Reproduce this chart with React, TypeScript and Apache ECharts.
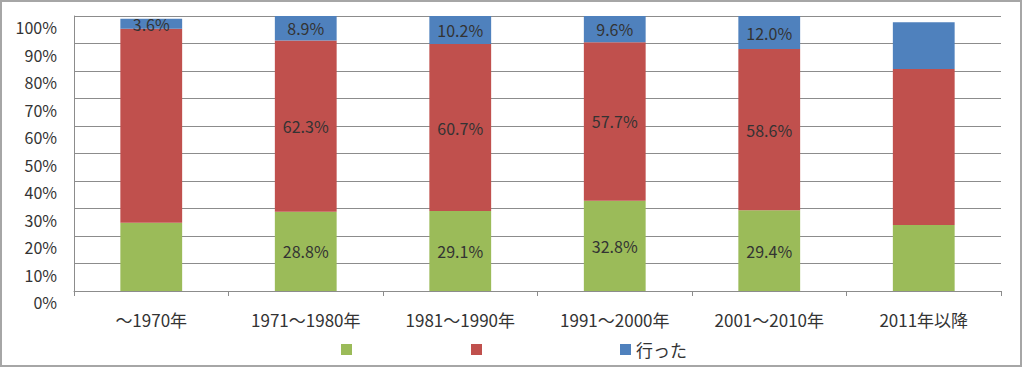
import React, { useEffect, useRef } from "react";
import * as echarts from "echarts";

const categories = ["～1970年", "1971～1980年", "1981～1990年", "1991～2000年", "2001～2010年", "2011年以降"];
const greenValues = [24.8, 28.8, 29.1, 32.8, 29.4, 24.0];
const redValues = [70.6, 62.3, 60.7, 57.7, 58.6, 56.7];
const blueValues = [3.6, 8.9, 10.2, 9.6, 12.0, 17.0];
const greenLabelShown = [false, true, true, true, true, false];
const redLabelShown = [false, true, true, true, true, false];
const blueLabelShown = [true, true, true, true, true, false];
const yTicks = [0, 10, 20, 30, 40, 50, 60, 70, 80, 90, 100];
const seriesNames = ["g", "r", "行った"];

const FONT = "'Noto Sans CJK JP', 'Noto Sans', sans-serif";

function withLabels(values: number[], shown: boolean[]) {
  return values.map((v, i) => ({
    value: v,
    label: { show: shown[i] },
  }));
}

export default function App() {
  const ref = useRef<HTMLDivElement>(null);
  useEffect(() => {
    document.body.style.margin = "0";
    const chart = echarts.init(ref.current!, null, { renderer: "svg" });
    const labelCfg = {
      position: "inside" as const,
      formatter: (p: any) => Number(p.value).toFixed(1) + "%",
      color: "#333",
      fontSize: 16,
      fontFamily: FONT,
    };
    const colors = ["#9BBB59", "#C0504D", "#4F81BD"];
    const legendBase = {
      padding: 0,
      itemWidth: 11,
      itemHeight: 11,
      icon: "rect",
      itemGap: 0,
      textStyle: { fontSize: 17, lineHeight: 17, color: "#333", fontFamily: FONT },
    };
    chart.setOption({
      animation: false,
      color: colors,
      grid: { left: 74, right: 23, top: 16, bottom: 82, containLabel: false },
      graphic: [
        {
          type: "rect",
          shape: { x: 1, y: 1, width: 1020, height: 365 },
          style: { fill: "none", stroke: "#a6a6a6", lineWidth: 2 },
          silent: true,
        },
      ],
      legend: [
        { ...legendBase, top: 344, left: 341, data: [seriesNames[0]], formatter: () => "" },
        { ...legendBase, top: 344, left: 471, data: [seriesNames[1]], formatter: () => "" },
        { ...legendBase, top: 341, left: 620, data: [seriesNames[2]] },
      ],
      xAxis: {
        type: "category",
        data: categories,
        axisLine: { lineStyle: { color: "#8c8c8c", width: 1 } },
        axisTick: { show: true, length: 5, lineStyle: { color: "#8c8c8c" } },
        axisLabel: { color: "#333", fontSize: 17, fontFamily: FONT, margin: 20 },
      },
      yAxis: {
        type: "value",
        min: yTicks[0],
        max: yTicks[yTicks.length - 1],
        interval: 10,
        axisLine: { show: true, lineStyle: { color: "#8c8c8c" } },
        axisTick: { show: false },
        splitLine: { lineStyle: { color: "#8c8c8c", width: 1 } },
        axisLabel: {
          color: "#333",
          fontSize: 16,
          fontFamily: FONT,
          margin: 17,
          verticalAlign: "top",
          lineHeight: 22,
          formatter: (v: number) => v + "%",
        },
      },
      series: [
        {
          name: seriesNames[0],
          type: "bar",
          stack: "total",
          barWidth: "40%",
          data: withLabels(greenValues, greenLabelShown),
          label: labelCfg,
        },
        {
          name: seriesNames[1],
          type: "bar",
          stack: "total",
          barWidth: "40%",
          data: withLabels(redValues, redLabelShown),
          label: labelCfg,
        },
        {
          name: seriesNames[2],
          type: "bar",
          stack: "total",
          barWidth: "40%",
          data: withLabels(blueValues, blueLabelShown),
          label: labelCfg,
        },
      ],
    });
    return () => chart.dispose();
  }, []);
  return (
    <div
      ref={ref}
      style={{ position: "absolute", left: 0, top: 0, width: 1024, height: 373, background: "#fff" }}
    />
  );
}
